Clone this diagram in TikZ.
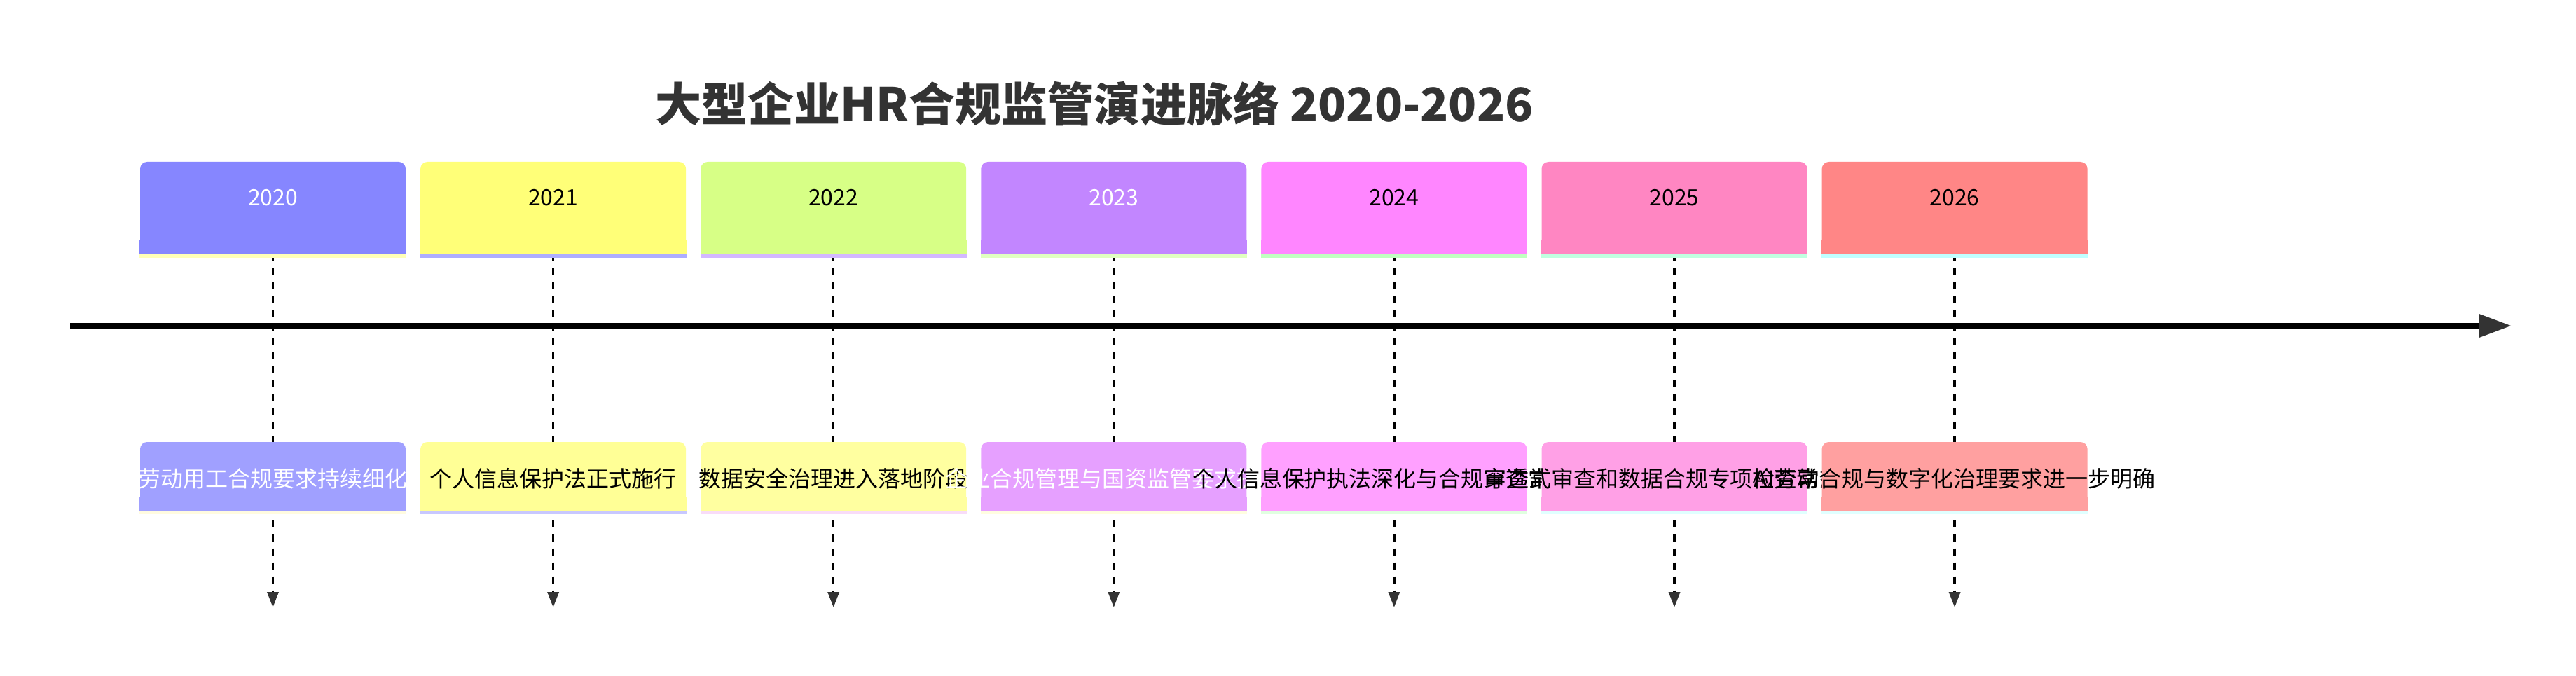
\documentclass[tikz,border=0pt]{standalone}
\usepackage{fontspec}
\setmainfont{Noto Sans CJK SC}
\usepackage{xcolor}
\usepackage{tikz}
\usetikzlibrary{arrows.meta,backgrounds}

\definecolor{yc0}{HTML}{8686FF}
\definecolor{yc1}{HTML}{FFFF78}
\definecolor{yc2}{HTML}{D7FF86}
\definecolor{yc3}{HTML}{C286FF}
\definecolor{yc4}{HTML}{FF86FF}
\definecolor{yc5}{HTML}{FF86C2}
\definecolor{yc6}{HTML}{FF8686}
\definecolor{ys0}{HTML}{FFFFB8}
\definecolor{ys1}{HTML}{ADADFF}
\definecolor{ys2}{HTML}{D3B8FF}
\definecolor{ys3}{HTML}{E0FFC0}
\definecolor{ys4}{HTML}{C0FFC0}
\definecolor{ys5}{HTML}{C0FFE0}
\definecolor{ys6}{HTML}{C0FFFF}
\definecolor{ec0}{HTML}{A0A0FF}
\definecolor{ec1}{HTML}{FFFF96}
\definecolor{ec2}{HTML}{FFFFA0}
\definecolor{ec3}{HTML}{E6A0FF}
\definecolor{ec4}{HTML}{FFA0FF}
\definecolor{ec5}{HTML}{FFA0E6}
\definecolor{ec6}{HTML}{FFA0A0}
\definecolor{es0}{HTML}{FFFBE0}
\definecolor{es1}{HTML}{C8C8FF}
\definecolor{es2}{HTML}{F8DCF8}
\definecolor{es3}{HTML}{FFFDE0}
\definecolor{es4}{HTML}{E0FFE0}
\definecolor{es5}{HTML}{E0FFFF}
\definecolor{es6}{HTML}{E0FFFF}
\definecolor{tipgray}{HTML}{333333}

\tikzset{
  yearbox/.style={rectangle, rounded corners=1mm, minimum width=37.9mm, minimum height=13.1mm, inner sep=0pt},
  eventbox/.style={rectangle, rounded corners=1mm, minimum width=37.9mm, minimum height=9.7mm, inner sep=0pt},
  boxtext/.style={font=\fontsize{9.1pt}{11pt}\selectfont, inner sep=0pt},
  timeaxis/.style={line width=0.8mm, -{Triangle[length=4.7mm, width=3.2mm, color=tipgray]}},
  tickline/.style={line width=0.35mm, dash pattern=on 1mm off 1mm, -{Triangle[length=2.2mm, width=1.6mm, color=tipgray]}}
}

\begin{document}
\begin{tikzpicture}[x=1mm, y=1mm]
\useasboundingbox (0,0) rectangle (367.7,96.4);

% Title
\node[font=\fontsize{18.8pt}{22pt}\selectfont\bfseries, text=tipgray] (title) at (156.2,81.6) {大型企业HR合规监管演进脉络 2020-2026};

% Years and events
\foreach \yr/\yc/\ys/\ytc/\ec/\es/\etc/\ev [count=\i from 0] in {
  2020/yc0/ys0/white/ec0/es0/white/劳动用工合规要求持续细化,
  2021/yc1/ys1/black/ec1/es1/black/个人信息保护法正式施行,
  2022/yc2/ys2/black/ec2/es2/black/数据安全治理进入落地阶段,
  2023/yc3/ys3/white/ec3/es3/white/企业合规管理与国资监管要求提升,
  2024/yc4/ys4/black/ec4/es4/black/个人信息保护执法深化与合规审查常态化,
  2025/yc5/ys5/black/ec5/es5/black/穿透式审查和数据合规专项检查常态化,
  2026/yc6/ys6/black/ec6/es6/black/AI劳动合规与数字化治理要求进一步明确}
{
  \node[yearbox, fill=\yc] (y\yr) at ({38.95+40.01*\i},66.75) {};
  \fill[\yc] (y\yr.south west) rectangle ([yshift=2mm]y\yr.south east);
  \fill[\ys] (y\yr.south west) rectangle ([yshift=-0.6mm]y\yr.south east);
  \node[boxtext, text=\ytc] (yl\yr) at ([yshift=1.45mm]y\yr.center) {\yr};

  \node[eventbox, fill=\ec] (e\yr) at ({38.95+40.01*\i},28.45) {};
  \fill[\ec] (e\yr.south west) rectangle ([yshift=2mm]e\yr.south east);
  \fill[\es] (e\yr.south west) rectangle ([yshift=-0.5mm]e\yr.south east);
  \node[boxtext, text=\etc] (el\yr) at ([yshift=-0.35mm]e\yr.center) {\ev};

  \coordinate (a\yr) at ({38.95+40.01*\i},9.7);
}

% Time axis
\coordinate (axisstart) at (10,49.9);
\coordinate (axisend) at (358.5,49.9);
\draw[timeaxis] (axisstart) -- (axisend);

% Dashed ticks behind the boxes
\begin{scope}[on background layer]
\foreach \yr in {2020,...,2026}
  \draw[tickline] (y\yr.south) -- (a\yr);
\end{scope}

\end{tikzpicture}
\end{document}
